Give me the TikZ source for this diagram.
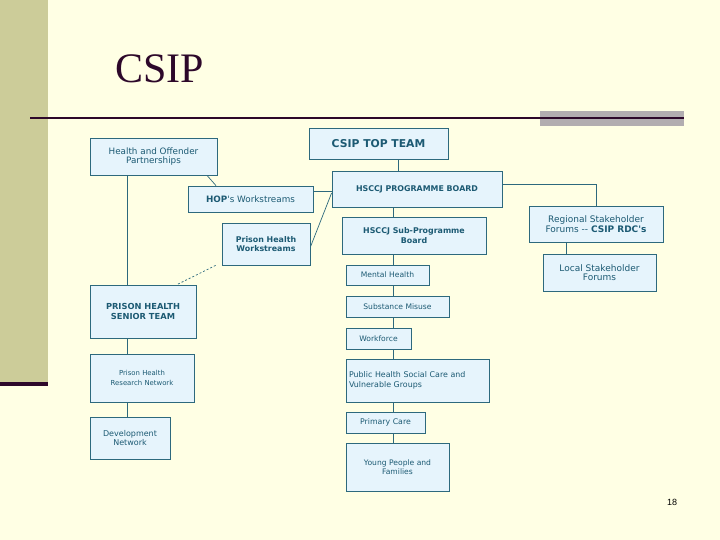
\documentclass[tikz,border=0pt]{standalone}
\usepackage{fontspec}
\newfontfamily\boxfont{DejaVu Sans}
\newfontfamily\titlefont{Liberation Serif}
\newfontfamily\numfont{Liberation Sans}
\usetikzlibrary{positioning}
\definecolor{bgyellow}{RGB}{255,255,228}
\definecolor{bandolive}{RGB}{204,204,153}
\definecolor{darkplum}{RGB}{45,8,42}
\definecolor{bargray}{RGB}{178,173,176}
\definecolor{boxfill}{RGB}{230,244,252}
\definecolor{boxline}{RGB}{45,105,125}
\definecolor{boxtext}{RGB}{28,90,115}
\newcommand{\fsz}[1]{\fontsize{#1}{9.5}\selectfont}
\tikzset{
  x=1pt, y=-1pt,
  orgbox/.style={draw=boxline, fill=boxfill, line width=0.8pt, inner sep=1pt,
    text=boxtext, align=center, font=\boxfont\fsz{7.6}},
  boldbox/.style={orgbox, font=\boxfont\bfseries\fsz{7.9}},
  link/.style={draw=boxline, line width=0.7pt},
  dashlink/.style={link, dashed, dash pattern=on 2pt off 2pt}
}
\begin{document}
\begin{tikzpicture}
\useasboundingbox (0,0) rectangle (720,540);
\fill[bgyellow] (0,0) rectangle (720,540);
\fill[bandolive] (0,0) rectangle (48,382);
\fill[darkplum] (0,382) rectangle (48,386);
\node[anchor=base west, inner sep=0, text=darkplum, font=\titlefont\fontsize{42}{42}\selectfont] (title) at (115,83) {CSIP};
\fill[bargray] (540,111) rectangle (684,126);
\draw[darkplum, line width=2.2pt] (30,118) -- (684,118);

% boxes
\node[boldbox, font=\boxfont\bfseries\fontsize{10.8}{12}\selectfont, minimum width=139, minimum height=31] (top) at (378.5,143.5) {CSIP TOP TEAM};
\node[orgbox, font=\boxfont\fsz{8.8}, minimum width=127, minimum height=37] (hop) at (153.5,156.5) {Health and Offender\\Partnerships};
\node[orgbox, font=\boxfont\fsz{8.8}, minimum width=125, minimum height=26] (hopw) at (250.5,199) {\textbf{HOP}'s Workstreams};
\node[boldbox, minimum width=170, minimum height=36] (pb) at (417,189) {HSCCJ PROGRAMME BOARD};
\node[boldbox, minimum width=144, minimum height=37] (sub) at (414,235.5) {HSCCJ Sub-Programme\\Board};
\node[boldbox, minimum width=88, minimum height=42] (phw) at (266,244) {Prison Health\\Workstreams};
\node[orgbox, font=\boxfont\fsz{9}, minimum width=134, minimum height=36] (reg) at (596,224) {Regional Stakeholder\\Forums -- \textbf{CSIP RDC's}};
\node[orgbox, font=\boxfont\fsz{9}, minimum width=113, minimum height=37] (loc) at (599.5,272.5) {Local Stakeholder\\Forums};
\node[orgbox, minimum width=83, minimum height=20] (mh) at (387.5,275) {Mental Health};
\node[orgbox, minimum width=103, minimum height=21] (sm) at (397.5,306.5) {Substance Misuse};
\node[orgbox, minimum width=65, minimum height=21] (wf) at (378.5,338.5) {Workforce};
\node[orgbox, font=\boxfont\fsz{7.9}, minimum width=143, minimum height=43, align=left, text width=137] (ph) at (417.5,380.5) {Public Health Social Care and\\Vulnerable Groups};
\node[orgbox, font=\boxfont\fsz{7.8}, minimum width=79, minimum height=21] (pc) at (385.5,422.5) {Primary Care};
\node[orgbox, minimum width=103, minimum height=48] (yp) at (397.5,467) {Young People and\\Families};
\node[boldbox, font=\boxfont\bfseries\fsz{8.3}, minimum width=106, minimum height=53] (phst) at (143,311.5) {PRISON HEALTH\\SENIOR TEAM};
\node[orgbox, font=\boxfont\fsz{6.9}, minimum width=104, minimum height=48] (phrn) at (142,378) {Prison Health\\Research Network};
\node[orgbox, font=\boxfont\fsz{8}, minimum width=80, minimum height=42] (dn) at (130,438) {Development\\Network};

% spines
\coordinate (rsp) at (393,0);
\coordinate (lsp) at (127,0);
\coordinate (tsp) at (398,0);
\coordinate (ssp) at (566,0);

% connectors
\draw[link] (tsp |- top.south) -- (tsp |- pb.north);
\draw[link] (rsp |- pb.south) -- (rsp |- sub.north);
\draw[link] (rsp |- sub.south) -- (rsp |- mh.north);
\draw[link] (rsp |- mh.south) -- (rsp |- sm.north);
\draw[link] (rsp |- sm.south) -- (rsp |- wf.north);
\draw[link] (rsp |- wf.south) -- (rsp |- ph.north);
\draw[link] (rsp |- ph.south) -- (rsp |- pc.north);
\draw[link] (rsp |- pc.south) -- (rsp |- yp.north);
\draw[link] ([yshift=8pt]hopw.east) -- ([yshift=8pt]hopw.east -| pb.west);
\draw[link] ([xshift=53.5pt]hop.south) -- ([xshift=-34.5pt]hopw.north);
\draw[link] ([yshift=-3pt]phw.east) -- ([yshift=-4pt]pb.west);
\draw[dashlink] ([xshift=-6pt]phw.south west) -- ([xshift=34pt]phst.north);
\draw[link] (lsp |- hop.south) -- (lsp |- phst.north);
\draw[link] (lsp |- phst.south) -- (lsp |- phrn.north);
\draw[link] (lsp |- phrn.south) -- (lsp |- dn.north);
\draw[link] ([yshift=5pt]pb.east) -| (reg.north);
\draw[link] (ssp |- reg.south) -- (ssp |- loc.north);

\node[font=\numfont\fontsize{9}{9}\selectfont, inner sep=0] (pnum) at (672,502) {18};
\end{tikzpicture}
\end{document}
